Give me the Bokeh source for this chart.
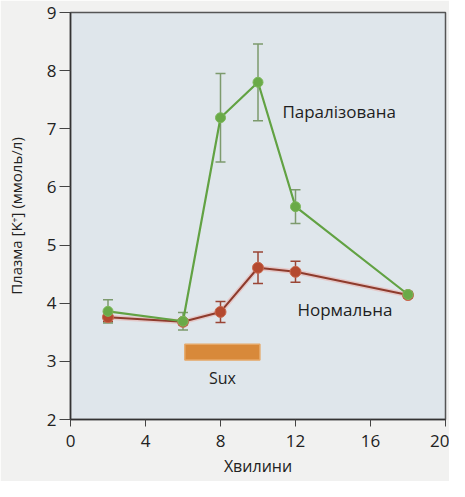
from bokeh.plotting import figure
from bokeh.models import ColumnDataSource, Whisker, TeeHead, FixedTicker, Range1d
from bokeh.core.properties import value
from bokeh.embed import file_html
from bokeh.resources import INLINE

minutes = [2, 6, 8, 10, 12, 18]
paralyzed = [3.86, 3.69, 7.19, 7.80, 5.66, 4.15]
paralyzed_err = [0.20, 0.15, 0.76, 0.66, 0.29, 0.05]
normal = [3.76, 3.68, 3.85, 4.61, 4.54, 4.14]
normal_err = [0.08, 0.05, 0.18, 0.27, 0.18, 0.05]
sux_start, sux_end, sux_level = 6.1, 10.1, 3.16
x_ticks = [0, 4, 8, 12, 16, 20]
y_ticks = [2, 3, 4, 5, 6, 7, 8, 9]
label_texts = ["Паралізована", "Нормальна", "Sux"]
label_x = [11.3, 12.1, 8.1]
label_y = [7.30, 3.90, 2.72]

FONT = "Open Sans"

p = figure(width=449, height=481, output_backend="svg", toolbar_location=None,
           x_range=Range1d(0, 20), y_range=Range1d(2, 9),
           min_border_left=70, min_border_right=4, min_border_top=12, min_border_bottom=62)

p.background_fill_color = "#dfe6eb"
p.border_fill_color = "#f1f1f0"
p.outline_line_color = "#555555"
p.outline_line_width = 1.5
p.grid.visible = False

for ax in (p.xaxis[0], p.yaxis[0]):
    ax.axis_line_color = "#333333"
    ax.axis_line_width = 1.5
    ax.major_tick_line_color = "#444444"
    ax.major_tick_in = 0
    ax.minor_tick_line_color = None
    ax.major_label_text_font = FONT
    ax.major_label_text_font_size = "17px"
    ax.major_label_text_color = "#222222"
    ax.axis_label_text_font = FONT
    ax.axis_label_text_font_style = "normal"
    ax.axis_label_text_color = "#222222"

p.xaxis.ticker = FixedTicker(ticks=x_ticks)
p.yaxis.ticker = FixedTicker(ticks=y_ticks)
p.xaxis.major_tick_out = 7
p.yaxis.major_tick_out = 11
p.xaxis.major_label_standoff = 8
p.yaxis.major_label_standoff = 3
p.xaxis.axis_label = "Хвилини"
p.yaxis.axis_label = "Плазма [K⁺] (ммоль/л)"
p.xaxis.axis_label_text_font_size = "16px"
p.yaxis.axis_label_text_font_size = "15px"
p.xaxis.axis_label_standoff = 5
p.yaxis.axis_label_standoff = 18

# Sux bar
p.hbar(y=[sux_level], left=[sux_start], right=[sux_end], height=0.27,
       fill_color="#d8893a", line_color="#e6a766", line_width=1.5)

# Normal series
src_n = ColumnDataSource(dict(x=minutes, y=normal,
                              lo=[v - e for v, e in zip(normal, normal_err)],
                              hi=[v + e for v, e in zip(normal, normal_err)]))
p.add_layout(Whisker(source=src_n, base="x", upper="hi", lower="lo",
                     line_color="#9a4535", line_width=1.5,
                     upper_head=TeeHead(size=10, line_color="#9a4535", line_width=1.5),
                     lower_head=TeeHead(size=10, line_color="#9a4535", line_width=1.5)))
p.line("x", "y", source=src_n, line_color="#e8b4b0", line_width=5, line_alpha=0.6)
p.line("x", "y", source=src_n, line_color="#8e3b2c", line_width=2)
p.scatter("x", "y", source=src_n, size=11, fill_color="#b4492f", line_color="#c9694f")

# Paralyzed series
src_p = ColumnDataSource(dict(x=minutes, y=paralyzed,
                              lo=[v - e for v, e in zip(paralyzed, paralyzed_err)],
                              hi=[v + e for v, e in zip(paralyzed, paralyzed_err)]))
p.add_layout(Whisker(source=src_p, base="x", upper="hi", lower="lo",
                     line_color="#7d9a6d", line_width=1.5,
                     upper_head=TeeHead(size=10, line_color="#7d9a6d", line_width=1.5),
                     lower_head=TeeHead(size=10, line_color="#7d9a6d", line_width=1.5)))
p.line("x", "y", source=src_p, line_color="#62a243", line_width=2.2)
p.scatter("x", "y", source=src_p, size=10, fill_color="#6aaa48", line_color="#7cb85a")

# Labels
p.text(x=label_x[:2], y=label_y[:2], text=label_texts[:2],
       text_font=value(FONT), text_font_size="17px", text_color="#1e1e1e",
       text_align="left", text_baseline="middle")
p.text(x=label_x[2:], y=label_y[2:], text=label_texts[2:],
       text_font=value(FONT), text_font_size="16px", text_color="#1e1e1e",
       text_align="center", text_baseline="middle")

open("out.html", "w").write(file_html(p, INLINE))
